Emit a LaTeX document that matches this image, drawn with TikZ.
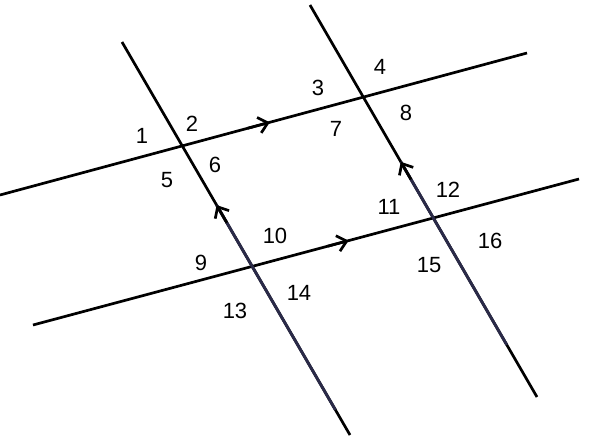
\documentclass[tikz,border=0pt]{standalone}
\usepackage{fontspec}
\setmainfont{Liberation Sans}
\usetikzlibrary{calc,arrows.meta}
\definecolor{navyline}{HTML}{2A2A48}
\begin{document}
\begin{tikzpicture}[x=1pt,y=-1pt,
  ln/.style={line width=2.7pt,black},
  nv/.style={line width=2.9pt,navyline},
  arr/.style={line width=2.7pt,black,-{Straight Barb[length=9pt,width=16pt]}},
  lab/.style={font=\fontsize{22}{24}\selectfont,inner sep=0pt,anchor=center}]
\useasboundingbox (0,0) rectangle (603,437);
% line ends
\coordinate (A1) at (0,195);
\coordinate (A2) at (527,53);
\coordinate (B1) at (33,325);
\coordinate (B2) at (579,179);
\coordinate (C1) at (122,42);
\coordinate (C2) at (350,435);
\coordinate (D1) at (310,5);
\coordinate (D2) at (537,397);
% arrow tips and navy segments
\coordinate (tA) at ($(A1)!0.512!(A2)$);
\coordinate (sA) at ($(A1)!0.47!(A2)$);
\coordinate (tB) at ($(B1)!0.578!(B2)$);
\coordinate (sB) at ($(B1)!0.54!(B2)$);
\coordinate (tC) at ($(C1)!0.415!(C2)$);
\coordinate (sC) at ($(C1)!0.46!(C2)$);
\coordinate (eC) at ($(C1)!0.936!(C2)$);
\coordinate (tD) at ($(D1)!0.40!(D2)$);
\coordinate (sD) at ($(D1)!0.445!(D2)$);
\coordinate (eD) at ($(D1)!0.867!(D2)$);
% lines
\draw[ln] (A1) -- (A2);
\draw[ln] (B1) -- (B2);
\draw[ln] (C1) -- (C2);
\draw[ln] (D1) -- (D2);
\draw[nv] (tC) -- (eC);
\draw[nv] (tD) -- (eD);
% arrows
\draw[arr] (sA) -- (tA);
\draw[arr] (sB) -- (tB);
\draw[arr] (sC) -- (tC);
\draw[arr] (sD) -- (tD);
% labels
\node[lab] (l1) at (142,136) {1};
\node[lab] (l2) at (192,124) {2};
\node[lab] (l3) at (318,88) {3};
\node[lab] (l4) at (380,67) {4};
\node[lab] (l5) at (167,180) {5};
\node[lab] (l6) at (215,165) {6};
\node[lab] (l7) at (336,129) {7};
\node[lab] (l8) at (406,113) {8};
\node[lab] (l9) at (201,263) {9};
\node[lab] (l10) at (275,236) {10};
\node[lab] (l11) at (389,207) {11};
\node[lab] (l12) at (448,190) {12};
\node[lab] (l13) at (235,311) {13};
\node[lab] (l14) at (299,293) {14};
\node[lab] (l15) at (429,265) {15};
\node[lab] (l16) at (490,241) {16};
\end{tikzpicture}
\end{document}
